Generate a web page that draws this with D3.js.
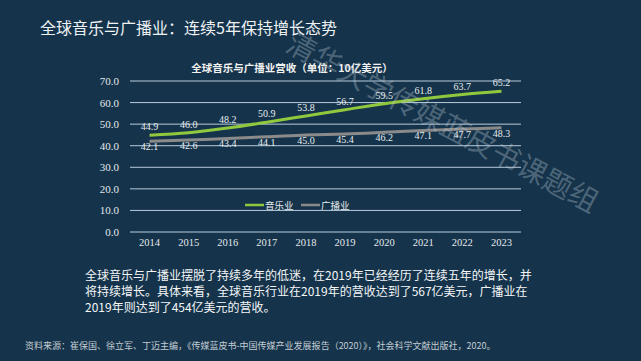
<!DOCTYPE html>
<html>
<head>
<meta charset="utf-8">
<script src="https://cdn.jsdelivr.net/npm/d3@7"></script>
<style>
  html, body { margin:0; padding:0; background:#15344b; }
  svg { display:block; }
</style>
</head>
<body>
<div id="chart"></div>
<script>
// data
var years = ["2014","2015","2016","2017","2018","2019","2020","2021","2022","2023"];
var music = [44.9, 46.0, 48.2, 50.9, 53.8, 56.7, 59.5, 61.8, 63.7, 65.2];
var radio = [42.1, 42.6, 43.4, 44.1, 45.0, 45.4, 46.2, 47.1, 47.7, 48.3];
var yTicks = [0, 10, 20, 30, 40, 50, 60, 70];
var seriesNames = ["音乐业", "广播业"];

var W = 641, H = 361;
var svg = d3.select("#chart").append("svg")
  .attr("width", W)
  .attr("height", H);

svg.append("rect").attr("width", W).attr("height", H).attr("fill", "#15344b");

var cjk = "'Noto Sans CJK SC', 'Noto Sans', sans-serif";
var num = "'Liberation Serif', 'DejaVu Serif', serif";

/* page title */
svg.append("text")
  .attr("x", 40).attr("y", 34)
  .attr("fill", "#eef2f5")
  .attr("font-family", cjk)
  .attr("font-size", 16)
  .text("全球音乐与广播业：连续5年保持增长态势");

var x = d3.scaleBand().domain(years).range([130, 521]);
var y = d3.scaleLinear().domain([0, 70]).range([232, 81]);

/* chart title */
svg.append("text")
  .attr("x", 292).attr("y", 72)
  .attr("text-anchor", "middle")
  .attr("fill", "#f2f2f2")
  .attr("font-family", cjk)
  .attr("font-weight", "bold")
  .attr("font-size", 10.5)
  .text("全球音乐与广播业营收（单位：10亿美元）");

/* grid */
svg.selectAll("line.grid")
  .data(yTicks)
  .enter()
  .append("line")
  .attr("class", "grid")
  .attr("x1", 130).attr("x2", 521)
  .attr("y1", function(d){ return y(d); })
  .attr("y2", function(d){ return y(d); })
  .attr("stroke", "#b9cbdc")
  .attr("stroke-width", 1);

/* y labels */
svg.selectAll("text.ylab")
  .data(yTicks)
  .enter()
  .append("text")
  .attr("class", "ylab")
  .attr("x", 119)
  .attr("y", function(d){ return y(d) + 4; })
  .attr("text-anchor", "end")
  .attr("fill", "#e4e8ec")
  .attr("font-family", num)
  .attr("font-size", 11)
  .text(function(d){ return d.toFixed(1); });

/* x labels */
svg.selectAll("text.xlab")
  .data(years)
  .enter()
  .append("text")
  .attr("class", "xlab")
  .attr("x", function(d){ return x(d) + x.bandwidth()/2; })
  .attr("y", 246)
  .attr("text-anchor", "middle")
  .attr("fill", "#e4e8ec")
  .attr("font-family", num)
  .attr("font-size", 10.5)
  .text(function(d){ return d; });

var line = d3.line()
  .x(function(d, i){ return x(years[i]) + x.bandwidth()/2; })
  .y(function(d){ return y(d); })
  .curve(d3.curveMonotoneX);

svg.append("path").datum(radio)
  .attr("d", line)
  .attr("fill", "none")
  .attr("stroke", "#8a8a8a")
  .attr("stroke-width", 3);

svg.append("path").datum(music)
  .attr("d", line)
  .attr("fill", "none")
  .attr("stroke", "#92c83e")
  .attr("stroke-width", 3);

/* value labels */
svg.selectAll("text.mlab")
  .data(music)
  .enter()
  .append("text")
  .attr("class", "mlab")
  .attr("x", function(d, i){ return x(years[i]) + x.bandwidth()/2; })
  .attr("y", function(d){ return y(d) - 5; })
  .attr("text-anchor", "middle")
  .attr("fill", "#e8ecef")
  .attr("font-family", num)
  .attr("font-size", 10)
  .text(function(d){ return d.toFixed(1); });

svg.selectAll("text.rlab")
  .data(radio)
  .enter()
  .append("text")
  .attr("class", "rlab")
  .attr("x", function(d, i){ return x(years[i]) + x.bandwidth()/2; })
  .attr("y", function(d){ return y(d) + 9; })
  .attr("text-anchor", "middle")
  .attr("fill", "#e8ecef")
  .attr("font-family", num)
  .attr("font-size", 10)
  .text(function(d){ return d.toFixed(1); });

/* legend */
var legColors = ["#92c83e", "#8a8a8a"];
var leg = svg.selectAll("g.leg")
  .data(seriesNames)
  .enter()
  .append("g")
  .attr("class", "leg")
  .attr("transform", function(d, i){ return "translate(" + (245 + i*56) + ",205)"; });
leg.append("line")
  .attr("x1", 0).attr("x2", 19)
  .attr("stroke", function(d, i){ return legColors[i]; })
  .attr("stroke-width", 2.5);
leg.append("text")
  .attr("x", 20).attr("y", 4)
  .attr("fill", "#e8ecef")
  .attr("font-family", cjk)
  .attr("font-size", 9.5)
  .text(function(d){ return d; });

/* paragraph */
var para = [
  "全球音乐与广播业摆脱了持续多年的低迷，在2019年已经经历了连续五年的增长，并",
  "将持续增长。具体来看，全球音乐行业在2019年的营收达到了567亿美元，广播业在",
  "2019年则达到了454亿美元的营收。"
];
svg.selectAll("text.para")
  .data(para)
  .enter()
  .append("text")
  .attr("class", "para")
  .attr("x", 85)
  .attr("y", function(d, i){ return 279.5 + i*16; })
  .attr("fill", "#f4f6f8")
  .attr("font-family", cjk)
  .attr("font-size", 12)
  .text(function(d){ return d; });

svg.append("text")
  .attr("x", 25).attr("y", 349)
  .attr("fill", "#c3ccd4")
  .attr("font-family", cjk)
  .attr("font-size", 9)
  .text("资料来源：崔保国、徐立军、丁迈主编，《传媒蓝皮书-中国传媒产业发展报告（2020）》，社会科学文献出版社，2020。");

/* watermark */
svg.append("text")
  .attr("transform", "translate(284,50) rotate(28)")
  .attr("fill", "#c8d2dc")
  .attr("fill-opacity", 0.33)
  .attr("font-family", cjk)
  .attr("font-size", 29)
  .text("清华大学传媒蓝皮书课题组");
</script>
</body>
</html>
